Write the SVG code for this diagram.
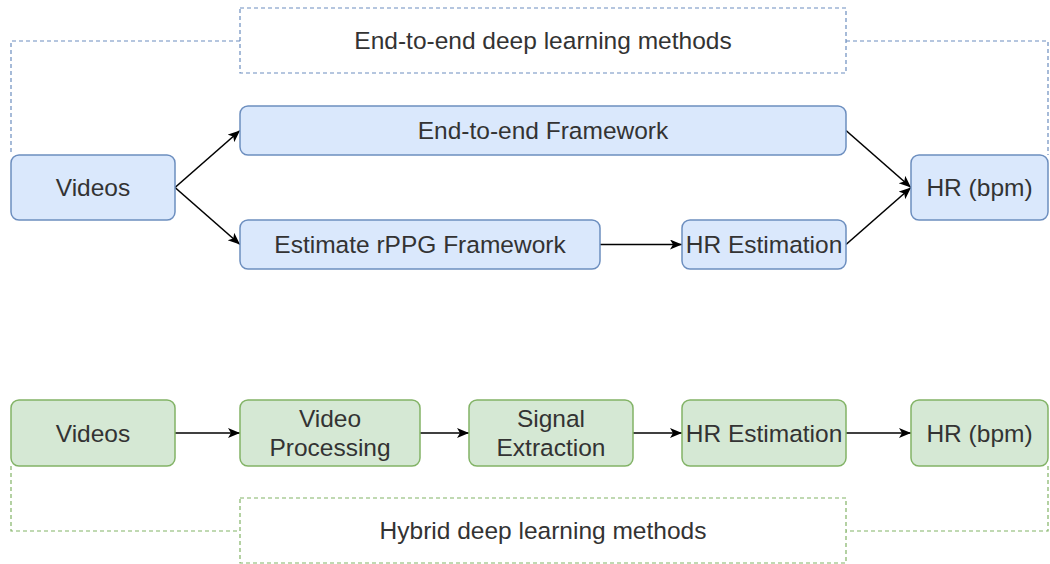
<svg xmlns="http://www.w3.org/2000/svg" width="1050" height="564" viewBox="0 0 1050 564">
<defs>
<marker id="arr" markerUnits="userSpaceOnUse" markerWidth="13" markerHeight="11" refX="12" refY="5" orient="auto">
<path d="M0,0 L12,5 L0,10 L3,5 Z" fill="#000"/>
</marker>
<style>
.blue{fill:#dae8fc;stroke:#6c8ebf;stroke-width:1.5}
.green{fill:#d5e8d4;stroke:#82b366;stroke-width:1.5}
.lblb{fill:#fff;stroke:#6c8ebf;stroke-width:1.2;stroke-dasharray:4 3}
.lblg{fill:#fff;stroke:#82b366;stroke-width:1.2;stroke-dasharray:4 3}
.dashb{fill:none;stroke:#6c8ebf;stroke-width:1.2;stroke-dasharray:4 3}
.dashg{fill:none;stroke:#82b366;stroke-width:1.2;stroke-dasharray:4 3}
.t{font-family:"Liberation Sans",Arial,sans-serif;font-size:24.5px;fill:#333;text-anchor:middle}
.c{fill:none;stroke:#000;stroke-width:1.6;marker-end:url(#arr)}
</style>
</defs>
<rect width="1050" height="564" fill="#fff"/>
<g id="frames">
<path class="dashb" d="M240,41 H11 V155"/>
<path class="dashb" d="M846,41 H1048 V155"/>
<path class="dashg" d="M11,466 V531 H240"/>
<path class="dashg" d="M1048,466 V531 H846"/>
</g>
<g id="label-e2e">
<rect class="lblb" x="240" y="8" width="606" height="65"/>
<text class="t" x="543" y="49">End-to-end deep learning methods</text>
</g>
<g id="label-hybrid">
<rect class="lblg" x="240" y="498" width="606" height="65"/>
<text class="t" x="543" y="539">Hybrid deep learning methods</text>
</g>
<g id="connectors">
<path class="c" d="M175,187.5 L240,130.5"/>
<path class="c" d="M175,187.5 L240,244.5"/>
<path class="c" d="M846,130.5 L911,187.5"/>
<path class="c" d="M846,244.5 L911,187.5"/>
<path class="c" d="M600,244.5 H682"/>
<path class="c" d="M175,433 H240"/>
<path class="c" d="M420,433 H469"/>
<path class="c" d="M633,433 H682"/>
<path class="c" d="M846,433 H911"/>
</g>
<g id="videos-top">
<rect class="blue" x="11" y="155" width="164" height="65" rx="8"/>
<text class="t" x="93" y="196">Videos</text>
</g>
<g id="e2e-framework">
<rect class="blue" x="240" y="106" width="606" height="49" rx="8"/>
<text class="t" x="543" y="139">End-to-end Framework</text>
</g>
<g id="rppg-framework">
<rect class="blue" x="240" y="220" width="360" height="49" rx="8"/>
<text class="t" x="420" y="253">Estimate rPPG Framework</text>
</g>
<g id="hr-est-top">
<rect class="blue" x="682" y="220" width="164" height="49" rx="8"/>
<text class="t" x="764" y="253">HR Estimation</text>
</g>
<g id="hr-top">
<rect class="blue" x="911" y="155" width="137" height="65" rx="8"/>
<text class="t" x="979.5" y="196">HR (bpm)</text>
</g>
<g id="videos-bottom">
<rect class="green" x="11" y="400" width="164" height="66" rx="8"/>
<text class="t" x="93" y="441.5">Videos</text>
</g>
<g id="video-processing">
<rect class="green" x="240" y="400" width="180" height="66" rx="8"/>
<text class="t" x="330" y="427">Video</text>
<text class="t" x="330" y="456">Processing</text>
</g>
<g id="signal-extraction">
<rect class="green" x="469" y="400" width="164" height="66" rx="8"/>
<text class="t" x="551" y="427">Signal</text>
<text class="t" x="551" y="456">Extraction</text>
</g>
<g id="hr-est-bottom">
<rect class="green" x="682" y="400" width="164" height="66" rx="8"/>
<text class="t" x="764" y="441.5">HR Estimation</text>
</g>
<g id="hr-bottom">
<rect class="green" x="911" y="400" width="137" height="66" rx="8"/>
<text class="t" x="979.5" y="441.5">HR (bpm)</text>
</g>
</svg>
